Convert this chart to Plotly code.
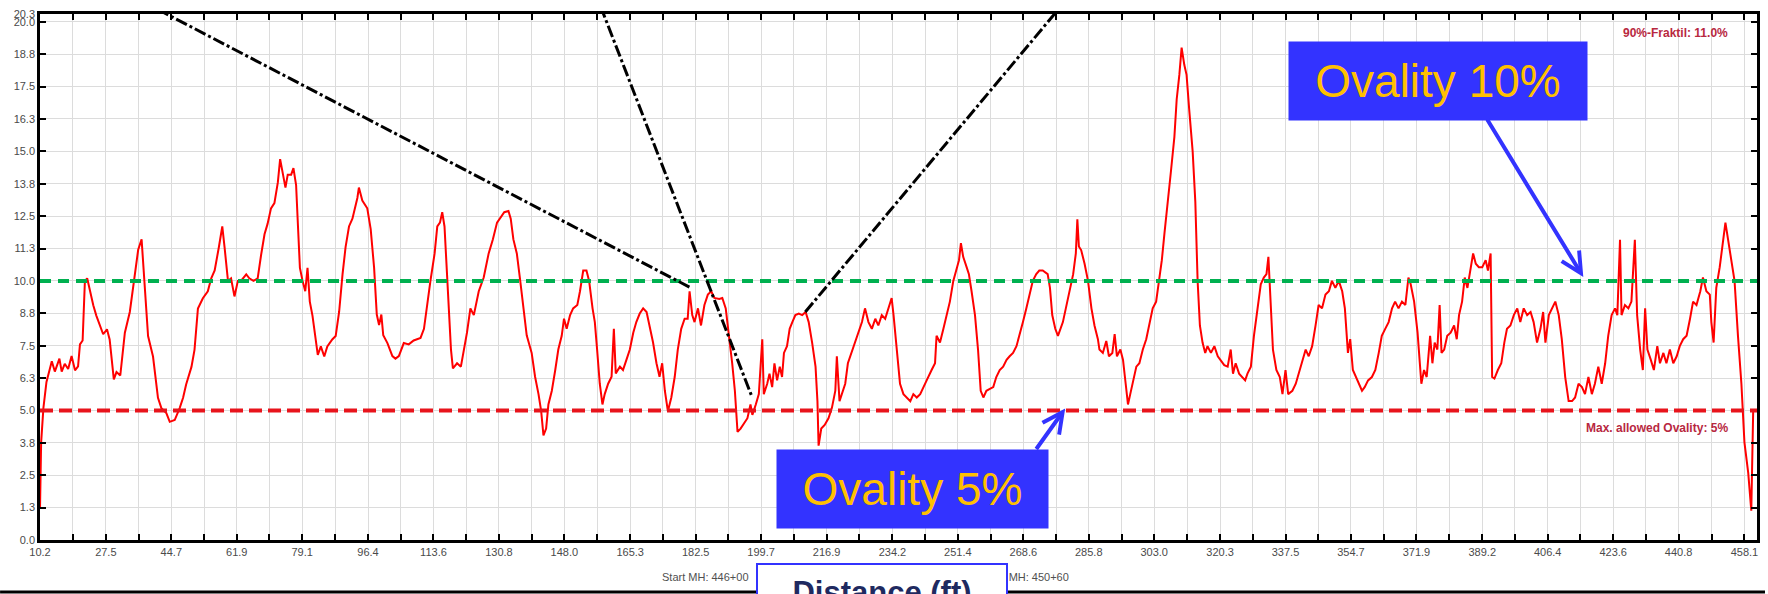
import plotly.graph_objects as go

# Ovality profile along the pipe run (distance in ft, ovality in %)
distance_ft = [
    10.2, 10.5, 11.1, 11.9, 13.3, 14.1, 15.3, 15.9, 16.7, 17.6, 18.5, 19.4, 20.2, 20.7, 21.4, 22.0,
    22.6, 23.3, 24.2, 25.0, 25.9, 26.8, 27.8, 28.5, 29.6, 30.3, 31.3, 32.5, 33.8, 35.1, 36.0, 36.9,
    37.7, 38.6, 39.9, 41.2, 42.1, 43.4, 44.3, 45.6, 46.9, 47.8, 48.6, 50.0, 50.8, 51.7, 53.0, 54.3,
    55.2, 56.1, 57.2, 58.1, 58.7, 59.6, 60.4, 61.3, 62.2, 63.0, 64.4, 65.2, 66.3, 67.4, 68.3, 69.2,
    70.0, 70.9, 71.8, 72.7, 73.3, 74.0, 74.7, 75.3, 76.2, 76.8, 77.5, 77.9, 78.5, 79.2, 79.9, 80.5,
    81.1, 81.8, 82.5, 83.2, 84.0, 84.9, 85.7, 87.0, 87.9, 88.8, 89.7, 90.5, 91.4, 92.3, 93.6, 94.0,
    94.9, 96.2, 97.1,
    98.0, 98.7, 99.3, 99.9, 100.4, 101.5, 102.8, 103.6, 104.5, 105.8, 107.1, 108.4, 110.2, 111.1,
    111.9, 112.8, 113.9, 114.6, 115.3, 115.9, 116.5, 117.0, 117.6, 118.2, 118.7, 119.8, 120.8, 121.5,
    122.4, 123.3, 124.2, 125.5, 126.8, 128.1, 129.2, 130.3, 131.1, 132.2, 133.3, 133.9, 134.6, 135.5,
    136.4, 137.3, 138.1, 139.4, 140.3, 141.2, 141.9, 142.5, 143.2, 143.8, 144.7, 145.6, 146.4, 147.3,
    147.9, 148.6, 149.5, 150.3, 151.4, 152.1, 152.95, 153.8, 154.5, 155.4, 156.0, 156.6, 157.3, 158.0,
    158.6, 159.5, 160.4, 161.0, 161.5, 162.6, 163.4, 164.3, 165.2, 166.1, 166.9, 167.8, 168.7, 169.6,
    170.4, 171.3, 172.2, 173.0, 173.7, 174.4, 175.2, 176.1, 177.0, 177.8, 178.7, 179.6, 180.4, 180.9,
    181.6, 182.2, 183.1, 183.9, 184.8, 185.7, 186.6, 187.4,
    188.7, 189.5, 190.4, 191.3, 192.1, 192.8, 193.5, 194.3, 195.2, 196.1, 196.9, 197.4, 198.3, 199.1,
    200.0, 200.4, 201.3, 201.9, 202.6, 203.2, 203.9, 204.6, 205.2, 205.7, 206.5, 207.2, 207.9, 208.7,
    209.6, 210.5, 211.4, 212.2, 213.1, 214.0, 214.5, 214.8, 215.5, 216.4, 217.4, 218.3, 219.2, 219.6,
    220.3, 221.1, 221.8, 222.5, 223.4, 224.4, 225.3, 226.2, 227.0, 227.9, 228.8, 229.7, 230.5, 231.4,
    232.3, 233.1, 234.0, 234.5, 235.4, 236.2, 237.1, 238.0, 238.9, 239.7, 240.6, 241.5, 242.3, 243.2,
    244.5, 245.4, 245.8, 246.7, 247.6, 248.5, 249.3, 250.2, 251.1, 251.7, 252.2, 252.8, 253.7, 254.3,
    255.0, 255.9, 256.7, 257.4, 258.1, 258.9, 259.8, 260.7, 261.5, 262.4, 263.3, 264.2, 265.0, 265.9,
    266.8, 267.6, 268.5, 269.4, 270.2, 271.1, 272.0, 272.8, 273.7, 275.0, 275.6, 276.2, 277.0, 277.7,
    279.0, 279.9, 280.8, 281.7, 282.4, 282.8, 283.2, 283.8, 284.7, 285.6, 286.5, 287.3, 288.2, 288.6,
    289.5, 290.4, 291.1, 292.0, 292.6, 293.2, 294.1, 294.8, 295.5, 296.1, 296.7, 297.6, 298.3, 299.1,
    300.0, 300.9, 301.7, 302.6, 303.5, 303.9, 304.4, 305.0, 305.7, 306.5, 307.4, 308.3, 308.9, 309.6,
    310.2, 310.9, 311.5, 312.2, 313.1, 313.8, 314.4, 315.0, 315.7, 316.4, 317.0, 317.9, 318.8, 319.7,
    320.5, 321.4, 322.3, 323.1, 323.7, 324.4, 325.3, 326.2, 326.9, 327.5, 328.4, 329.2, 330.1, 331.0,
    331.8, 332.5, 333.0, 333.6, 334.2, 335.1, 336.0, 336.7, 337.5, 338.2, 339.3, 340.2, 341.0, 341.9,
    342.8, 343.6, 344.5, 345.4, 346.2, 347.1, 348.0, 348.9, 349.7, 350.6, 351.5, 352.4, 353.1, 353.9,
    354.5, 355.2, 356.0, 356.7, 357.6, 358.3, 359.2, 360.2, 361.1, 362.0, 362.8, 363.7, 364.6, 365.5,
    366.3, 367.2, 368.1, 369.0, 369.8,
    370.4, 371.3, 372.2, 372.9, 373.2, 373.9, 374.6, 375.5, 376.1, 376.7, 377.4, 378.0, 378.5, 379.2,
    380.0, 380.9, 381.8, 382.5, 383.1, 383.9, 384.6, 385.3, 386.1, 386.8, 387.5, 388.3, 389.2, 390.1,
    390.7, 391.4, 391.8, 392.4, 393.3, 394.2, 395.0, 395.7, 396.6, 397.5, 398.4, 399.2, 400.1, 401.0,
    401.9, 402.7, 403.6, 404.5, 405.2, 405.8, 406.7, 407.5, 408.4, 409.3, 410.1, 411.0, 411.9, 412.8,
    413.6, 414.5, 415.4, 416.2, 417.1, 418.0, 418.8, 419.7, 420.6, 421.5, 422.3, 423.2, 424.1, 424.7,
    425.4, 425.8, 426.7, 427.6, 428.4, 429.3, 429.9, 430.7, 431.4, 432.0, 432.6, 433.5, 434.3, 435.2,
    435.9, 436.8, 437.6, 438.5, 439.4, 440.3, 441.1, 442.0, 442.9, 443.8, 444.6, 445.5, 446.5, 447.2,
    448.1, 449.0, 449.4, 450.0, 450.7, 451.6, 452.5, 453.1, 453.8, 454.7, 455.5, 456.4, 457.3, 458.1,
    459.1, 459.9, 460.4,
]

ovality_pct = [
    1.2, 3.77, 5.1, 6.1, 6.9, 6.5, 7.0, 6.5, 6.8, 6.6, 7.1, 6.55, 6.7, 7.55, 7.7, 10.0,
    10.1, 9.6, 9.06, 8.66, 8.27, 7.94, 8.13, 7.74, 6.2, 6.48, 6.35, 8.0, 8.8, 10.25, 11.2, 11.6,
    10.0, 7.87, 7.08, 5.49, 5.09, 4.9, 4.56, 4.63, 5.09, 5.49, 6.0, 6.68, 7.34, 8.93, 9.33, 9.6,
    10.1, 10.4, 11.3, 12.1, 11.3, 10.0, 10.1, 9.4, 10.0, 10.0, 10.25, 10.1, 10.0, 10.1, 11.0, 11.8,
    12.2, 12.8, 13.0, 13.8, 14.7, 14.1, 13.6, 14.1, 14.1, 14.35, 13.7, 12.4, 10.5, 10.0, 9.6, 10.5,
    9.2, 8.66, 7.87, 7.14, 7.47, 7.08, 7.47, 7.74, 7.87, 8.8, 10.25, 11.3, 12.1, 12.4, 13.2, 13.6,
    13.1, 12.8, 12.0,
    10.5, 8.7, 8.3, 8.7, 7.9, 7.6, 7.1, 7.0, 7.1, 7.6, 7.55, 7.7, 7.8, 8.15,
    9.07, 10.0, 11.06, 12.1, 12.25, 12.65, 12.1, 10.66, 8.94, 7.35, 6.62, 6.82, 6.69, 7.2,
    8.0, 8.94, 8.68, 9.6, 10.13, 11.06, 11.6, 12.25, 12.4, 12.65, 12.7, 12.4, 11.6, 11.06,
    10.0, 8.94, 7.9, 7.22, 6.3, 5.63, 4.97, 4.04, 4.3, 5.23, 5.76, 6.56, 7.35, 7.88,
    8.54, 8.15, 8.68, 8.94, 9.07, 9.6, 10.4, 10.4, 10.0, 8.94, 8.41, 7.35, 6.03, 5.23,
    5.63, 6.03, 6.3, 8.15, 6.43, 6.69, 6.56, 6.95, 7.35, 8.0, 8.41, 8.74, 8.94, 8.8,
    8.28, 7.62, 6.82, 6.3, 6.82, 5.76, 4.97, 5.5, 6.3, 7.35, 8.15, 8.54, 8.54, 9.6,
    8.68, 8.41, 8.94, 8.28, 9.07, 9.47, 9.6, 9.34,
    9.3, 9.34, 8.94, 7.9, 6.82, 5.76, 4.17, 4.3, 4.5, 4.7, 5.23, 4.83, 5.23, 5.63,
    7.75, 5.63, 6.03, 6.42, 5.9, 6.82, 6.16, 6.69, 6.29, 7.22, 7.48, 8.15, 8.41, 8.68,
    8.74, 8.68, 8.8, 8.41, 7.62, 6.69, 5.36, 3.64, 4.3, 4.44, 4.7, 5.1, 5.76, 7.09,
    5.36, 5.76, 6.03, 6.82, 7.22, 7.62, 8.0, 8.41, 8.94, 8.41, 8.15, 8.54, 8.28, 8.68,
    8.54, 8.94, 9.34, 8.68, 7.35, 6.03, 5.63, 5.5, 5.36, 5.63, 5.5, 5.63, 5.9, 6.16,
    6.56, 6.82, 7.88, 7.62, 8.15, 8.68, 9.2, 10.0, 10.53, 10.8, 11.46, 10.93, 10.53, 10.26,
    9.6, 8.68, 7.35, 5.76, 5.5, 5.76, 5.83, 5.9, 6.29, 6.56, 6.69, 6.95, 7.09, 7.22,
    7.48, 7.88, 8.41, 8.94, 9.47, 10.0, 10.26, 10.4, 10.4, 10.26, 9.73, 8.68, 8.15, 7.88,
    8.41, 9.07, 9.73, 10.26, 11.06, 12.38, 11.33, 11.19, 10.66, 10.0, 8.94, 8.28, 7.75, 7.35,
    7.22, 7.68, 7.09, 7.22, 7.95, 7.09, 7.35, 6.95, 6.03, 5.23, 5.63, 6.29, 6.69, 6.82,
    7.35, 7.75, 8.28, 8.94, 9.2, 9.6, 10.26, 10.8, 11.85, 12.9, 14.24, 15.56, 17.0, 17.95,
    19.0, 18.34, 17.95, 16.6, 15.0, 13.05, 10.0, 8.28, 7.62, 7.22, 7.48, 7.22, 7.48, 7.09,
    6.95, 6.75, 6.69, 7.35, 6.42, 6.82, 6.42, 6.29, 6.16, 6.42, 6.69, 7.88, 8.94, 9.87,
    10.13, 10.26, 10.93, 9.34, 7.35, 6.56, 6.29, 5.63, 6.56, 5.63, 5.76, 6.03, 6.42, 6.82,
    7.35, 7.09, 7.48, 8.28, 9.07, 8.94, 9.47, 9.6, 10.0, 9.73, 10.0, 9.6, 8.94, 7.22,
    7.75, 6.56, 6.29, 6.03, 5.76, 5.9, 6.16, 6.29, 6.56, 7.22, 7.88, 8.15, 8.41, 8.94,
    9.2, 8.94, 9.2, 9.07, 10.13,
    9.87, 9.2, 8.0, 6.56, 6.03, 6.56, 6.29, 7.88, 6.82, 7.62, 7.35, 9.07, 7.22, 7.35,
    7.88, 8.0, 8.28, 7.75, 8.68, 9.2, 10.13, 9.73, 10.53, 11.06, 10.66, 10.53, 10.53, 10.8,
    10.4, 11.06, 6.29, 6.23, 6.56, 6.82, 7.62, 8.15, 8.28, 8.68, 8.94, 8.41, 8.94, 8.68,
    8.8, 8.41, 7.62, 8.15, 8.8, 7.62, 8.68, 8.94, 9.2, 8.68, 7.75, 6.29, 5.36, 5.36,
    5.5, 6.03, 5.9, 5.63, 6.29, 5.63, 6.03, 6.69, 6.03, 6.82, 7.88, 8.68, 8.94, 8.68,
    11.59, 8.68, 9.07, 8.94, 9.2, 11.59, 8.68, 7.35, 6.56, 8.94, 7.35, 6.95, 6.56, 7.48,
    6.82, 7.22, 6.82, 7.35, 6.82, 7.09, 7.48, 7.75, 7.88, 8.54, 9.2, 9.07, 9.6, 10.13,
    9.6, 9.47, 8.41, 7.62, 9.73, 10.53, 11.46, 12.25, 11.59, 10.8, 10.0, 7.88, 6.03, 3.77,
    2.58, 1.13, 5.0,
]

x_tick_labels = [
    "10.2", "27.5", "44.7", "61.9", "79.1", "96.4", "113.6", "130.8", "148.0", "165.3",
    "182.5", "199.7", "216.9", "234.2", "251.4", "268.6", "285.8", "303.0", "320.3",
    "337.5", "354.7", "371.9", "389.2", "406.4", "423.6", "440.8", "458.1",
]
y_tick_labels = [
    "0.0", "1.3", "2.5", "3.8", "5.0", "6.3", "7.5", "8.8", "10.0", "11.3", "12.5",
    "13.8", "15.0", "16.3", "17.5", "18.8", "20.0", "20.3",
]
y_tick_step = 1.25
x_max = 461.4
y_max = 20.3

max_allowed_ovality = 5.0
ovality_10_line = 10.0

# Leader lines (dash-dot) drawn across the plot: (x0, y0, x1, y1)
leader_lines = [
    (41.1, 20.48, 181.0, 9.75),
    (157.5, 20.6, 197.1, 5.6),
    (211.3, 8.8, 278.5, 20.6),
]

# ---- geometry helpers (pixel -> paper) ----
W, H = 1768, 594
ML, MR, MT, MB = 40, 8, 8, 54
PW, PH = W - ML - MR, H - MT - MB


def px(p):
    return (p - ML) / PW


def py(p):
    return (H - MB - p) / PH


# x ticks: labelled ticks plus one unlabelled tick between each pair
x_label_vals = [float(t) for t in x_tick_labels]
x_tickvals, x_ticktext = [], []
for i, v in enumerate(x_label_vals):
    x_tickvals.append(v)
    x_ticktext.append(x_tick_labels[i])
    if i + 1 < len(x_label_vals):
        x_tickvals.append((v + x_label_vals[i + 1]) / 2)
        x_ticktext.append("")

y_tickvals = [i * y_tick_step for i in range(len(y_tick_labels) - 1)] + [y_max]

fig = go.Figure()
fig.add_trace(go.Scatter(
    x=distance_ft, y=ovality_pct, mode="lines",
    line=dict(color="#FF0000", width=2), showlegend=False, hoverinfo="skip",
))

font_family = "Liberation Sans, Arial, sans-serif"
axis_common = dict(
    ticks="inside", ticklen=6, tickwidth=2, tickcolor="black",
    showline=True, linecolor="black", linewidth=2.5, mirror="ticks",
    showgrid=True, gridcolor="#DCDCDC", gridwidth=1.2, zeroline=False,
    tickfont=dict(family=font_family, size=11, color="#4A4A4A"),
)

fig.update_layout(
    width=W, height=H, autosize=False,
    margin=dict(l=ML, r=MR, t=MT, b=MB),
    paper_bgcolor="white", plot_bgcolor="white",
    xaxis=dict(range=[x_label_vals[0], x_max], tickmode="array",
               tickvals=x_tickvals, ticktext=x_ticktext, tickangle=0, **axis_common),
    yaxis=dict(range=[0, y_max], tickmode="array",
               tickvals=y_tickvals, ticktext=y_tick_labels, **axis_common),
)

shapes = [
    # bottom frame line
    dict(type="line", xref="paper", yref="paper", x0=px(0), x1=px(W), y0=py(592.5), y1=py(592.5),
         line=dict(color="black", width=3)),
    dict(type="line", xref="paper", yref="y", x0=0, x1=1,
         y0=max_allowed_ovality, y1=max_allowed_ovality,
         line=dict(color="#E8141C", width=4, dash="13px,6px")),
    dict(type="line", xref="paper", yref="y", x0=0, x1=1,
         y0=ovality_10_line, y1=ovality_10_line,
         line=dict(color="#00B050", width=4, dash="11px,7px")),
]
for x0, y0, x1, y1 in leader_lines:
    shapes.append(dict(type="line", xref="x", yref="y", x0=x0, y0=y0, x1=x1, y1=y1,
                       line=dict(color="black", width=3, dash="12px,3px,3px,3px")))
fig.update_layout(shapes=shapes)

label_red = "#B8283F"
gray_txt = "#505050"
callout_blue = "#3333FF"
callout_gold = "#FFC000"

annotations = [
    dict(text="<b>90%-Fraktil: 11.0%</b>", xref="paper", yref="paper", x=px(1733), y=py(27),
         xanchor="right", yanchor="middle", showarrow=False,
         font=dict(family=font_family, size=12, color=label_red)),
    dict(text="<b>Max. allowed Ovality: 5%</b>", xref="paper", yref="paper", x=px(1733), y=py(427),
         xanchor="right", yanchor="middle", showarrow=False,
         font=dict(family=font_family, size=12, color=label_red)),
    dict(text="Start MH: 446+00", xref="paper", yref="paper", x=px(707), y=py(577),
         xanchor="center", yanchor="middle", showarrow=False,
         font=dict(family=font_family, size=11, color=gray_txt)),
    dict(text="End MH: 450+60", xref="paper", yref="paper", x=px(1073), y=py(577),
         xanchor="right", yanchor="middle", showarrow=False,
         font=dict(family=font_family, size=11, color=gray_txt)),
    # callout boxes
    dict(text="Ovality 10%", xref="paper", yref="paper", x=px(1440), y=py(76),
         xanchor="center", yanchor="middle", showarrow=False,
         width=298, height=78, bgcolor=callout_blue, borderpad=0,
         font=dict(family=font_family, size=46, color=callout_gold)),
    dict(text="Ovality 5%", xref="paper", yref="paper", x=px(914.5), y=py(488),
         xanchor="center", yanchor="middle", showarrow=False,
         width=271, height=78, bgcolor=callout_blue, borderpad=0,
         font=dict(family=font_family, size=46, color=callout_gold)),
    # callout arrows
    dict(text="", xref="paper", yref="paper", x=px(1586), y=py(274),
         ax=1489 - 1586, ay=115 - 274, showarrow=True, arrowhead=5, arrowsize=1,
         arrowwidth=4, arrowcolor=callout_blue, standoff=0),
    dict(text="", xref="paper", yref="paper", x=px(1067), y=py(407),
         ax=1037 - 1067, ay=449 - 407, showarrow=True, arrowhead=5, arrowsize=1,
         arrowwidth=4, arrowcolor=callout_blue, standoff=0),
    # axis title box
    dict(text="<b>Distance (ft)</b>", xref="paper", yref="paper", x=px(883), y=py(563),
         xanchor="center", yanchor="top", showarrow=False, valign="top",
         width=228, height=60, bgcolor="white", bordercolor=callout_blue, borderwidth=2,
         borderpad=10, font=dict(family=font_family, size=31, color="#1F2A60")),
]
fig.update_layout(annotations=annotations)

fig.write_html("out.html")
